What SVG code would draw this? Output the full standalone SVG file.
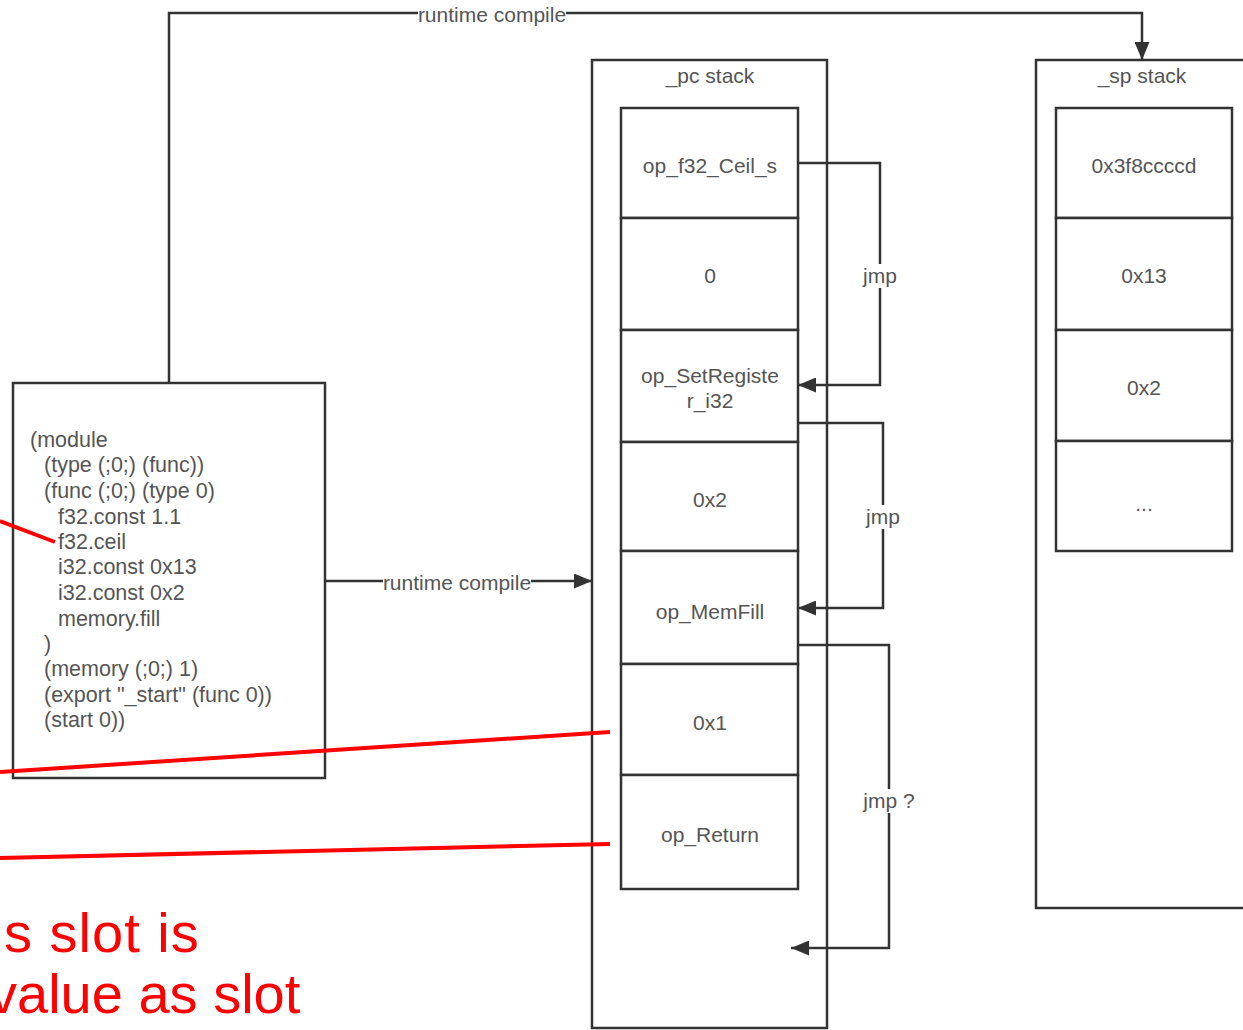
<svg xmlns="http://www.w3.org/2000/svg" width="1243" height="1030" viewBox="0 0 1243 1030">
<style>
.box{fill:#fff;stroke:#333;stroke-width:2.5}
.cell{fill:#fff;stroke:#333;stroke-width:2.5}
.t{font-family:"Liberation Sans",Arial,sans-serif;font-size:21px;fill:#555;text-anchor:middle;dominant-baseline:central}
.code{font-family:"Liberation Sans",Arial,sans-serif;font-size:21.5px;fill:#555}
.ln{fill:none;stroke:#333;stroke-width:2.5}
.lbl{font-family:"Liberation Sans",Arial,sans-serif;font-size:21px;fill:#555;text-anchor:middle;dominant-baseline:central}
.lblbg{fill:#fff}
.red{stroke:#ff0000;stroke-width:4;fill:none}
.redt{font-family:"Liberation Sans",Arial,sans-serif;font-size:56px;fill:#ff0000}
</style>
<defs>
<marker id="ah" viewBox="0 0 18 15" refX="18" refY="7.5" markerWidth="18" markerHeight="15" markerUnits="userSpaceOnUse" orient="auto">
<path d="M0,0 L18,7.5 L0,15 Z" fill="#333"/>
</marker>
</defs>
<rect width="1243" height="1030" fill="#fff"/>

<g id="module">
<rect class="box" x="13" y="383" width="312" height="395"/>
<text class="code" x="30" y="447">(module</text>
<text class="code" x="44" y="472">(type (;0;) (func))</text>
<text class="code" x="44" y="498">(func (;0;) (type 0)</text>
<text class="code" x="58" y="524">f32.const 1.1</text>
<text class="code" x="58" y="549">f32.ceil</text>
<text class="code" x="58" y="574">i32.const 0x13</text>
<text class="code" x="58" y="600">i32.const 0x2</text>
<text class="code" x="58" y="626">memory.fill</text>
<text class="code" x="44" y="651">)</text>
<text class="code" x="44" y="676">(memory (;0;) 1)</text>
<text class="code" x="44" y="702">(export "_start" (func 0))</text>
<text class="code" x="44" y="727">(start 0))</text>
</g>

<g id="pc_stack">
<rect class="box" x="592" y="60" width="235" height="968"/>
<text class="t" x="710" y="75">_pc stack</text>
</g>
<g id="pc_0"><rect class="cell" x="621" y="108" width="177" height="110"/><text class="t" x="710" y="165">op_f32_Ceil_s</text></g>
<g id="pc_1"><rect class="cell" x="621" y="218" width="177" height="112"/><text class="t" x="710" y="275">0</text></g>
<g id="pc_2"><rect class="cell" x="621" y="330" width="177" height="112"/><text class="t" x="710" y="375">op_SetRegiste</text><text class="t" x="710" y="400">r_i32</text></g>
<g id="pc_3"><rect class="cell" x="621" y="442" width="177" height="109"/><text class="t" x="710" y="499">0x2</text></g>
<g id="pc_4"><rect class="cell" x="621" y="551" width="177" height="113"/><text class="t" x="710" y="611">op_MemFill</text></g>
<g id="pc_5"><rect class="cell" x="621" y="664" width="177" height="111"/><text class="t" x="710" y="722">0x1</text></g>
<g id="pc_6"><rect class="cell" x="621" y="775" width="177" height="114"/><text class="t" x="710" y="834">op_Return</text></g>

<g id="sp_stack">
<rect class="box" x="1036" y="60" width="215" height="848"/>
<text class="t" x="1142" y="75">_sp stack</text>
</g>
<g id="sp_0"><rect class="cell" x="1056" y="108" width="176" height="110"/><text class="t" x="1144" y="165">0x3f8ccccd</text></g>
<g id="sp_1"><rect class="cell" x="1056" y="218" width="176" height="112"/><text class="t" x="1144" y="275">0x13</text></g>
<g id="sp_2"><rect class="cell" x="1056" y="330" width="176" height="111"/><text class="t" x="1144" y="387">0x2</text></g>
<g id="sp_3"><rect class="cell" x="1056" y="441" width="176" height="110"/><text class="t" x="1144" y="503">...</text></g>

<g id="connectors">
<path class="ln" d="M169,383 V13 H1142 V60" marker-end="url(#ah)"/>
<rect class="lblbg" x="418" y="3" width="148" height="22"/>
<text class="lbl" x="492" y="14">runtime compile</text>

<path class="ln" d="M325,581 H592" marker-end="url(#ah)"/>
<rect class="lblbg" x="383" y="571" width="148" height="22"/>
<text class="lbl" x="457" y="582">runtime compile</text>

<path class="ln" d="M798,163 H880 V385 H798" marker-end="url(#ah)"/>
<rect class="lblbg" x="864" y="264" width="32" height="24"/>
<text class="lbl" x="880" y="275">jmp</text>

<path class="ln" d="M798,423 H883 V608 H798" marker-end="url(#ah)"/>
<rect class="lblbg" x="867" y="505" width="32" height="24"/>
<text class="lbl" x="883" y="516">jmp</text>

<path class="ln" d="M798,645 H889 V948 H791" marker-end="url(#ah)"/>
<rect class="lblbg" x="864" y="789" width="52" height="24"/>
<text class="lbl" x="889" y="800">jmp ?</text>
</g>

<g id="annotations">
<line class="red" x1="0" y1="521" x2="55" y2="542"/>
<line class="red" x1="0" y1="772" x2="610" y2="732"/>
<line class="red" x1="0" y1="858" x2="610" y2="844"/>
<text class="redt" x="4" y="952" letter-spacing="1">s slot is</text>
<text class="redt" x="-11" y="1013">value as slot</text>
</g>
</svg>
